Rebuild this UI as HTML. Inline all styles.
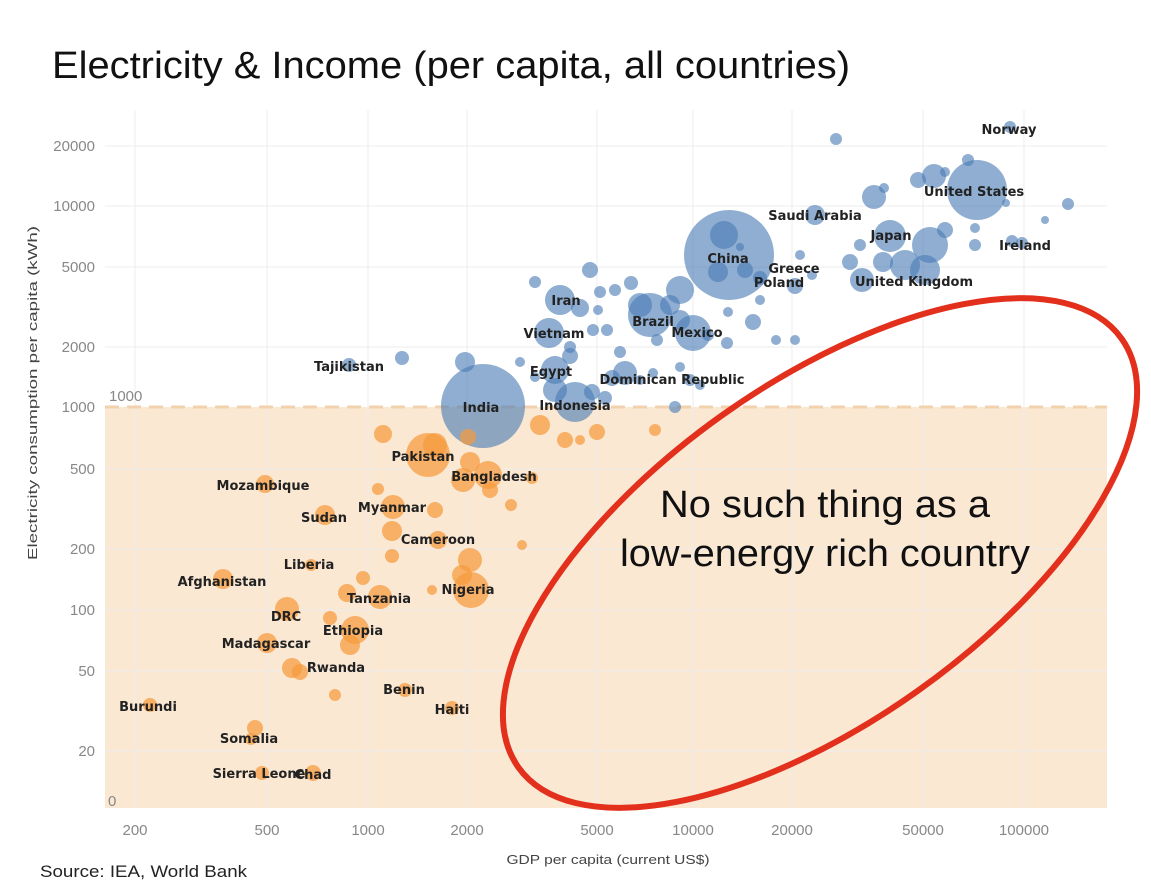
<!DOCTYPE html>
<html><head><meta charset="utf-8"><style>
html,body{margin:0;padding:0;background:#fff;}
svg{display:block;}
.t{font-family:"Liberation Sans",sans-serif;}
.lb{font-family:"DejaVu Sans","Liberation Sans",sans-serif;font-size:13px;font-weight:bold;fill:#222;text-anchor:middle;}
.tk{font-family:"Liberation Sans",sans-serif;font-size:15px;fill:#888;}
.b circle{fill:#4a7db5;fill-opacity:0.62;}
.o circle{fill:#f59a3c;fill-opacity:0.72;}
</style></head><body>
<svg width="1151" height="895" viewBox="0 0 1151 895" xmlns="http://www.w3.org/2000/svg">
<rect width="1151" height="895" fill="#fff"/>
<text class="t" x="52" y="78" font-size="38" fill="#111" textLength="798" lengthAdjust="spacingAndGlyphs">Electricity &amp; Income (per capita, all countries)</text>
<rect x="105" y="407" width="1002" height="401" fill="#fbe8d3"/>
<g stroke="#ececec" stroke-width="1">
<line x1="135" y1="110" x2="135" y2="808"/><line x1="267" y1="110" x2="267" y2="808"/>
<line x1="368" y1="110" x2="368" y2="808"/><line x1="467" y1="110" x2="467" y2="808"/>
<line x1="597" y1="110" x2="597" y2="808"/><line x1="693" y1="110" x2="693" y2="808"/>
<line x1="792" y1="110" x2="792" y2="808"/><line x1="923" y1="110" x2="923" y2="808"/>
<line x1="1024" y1="110" x2="1024" y2="808"/>
<line x1="105" y1="146" x2="1107" y2="146"/><line x1="105" y1="206" x2="1107" y2="206"/>
<line x1="105" y1="267" x2="1107" y2="267"/><line x1="105" y1="347" x2="1107" y2="347"/>
<line x1="105" y1="469" x2="1107" y2="469"/><line x1="105" y1="549" x2="1107" y2="549"/>
<line x1="105" y1="610" x2="1107" y2="610"/><line x1="105" y1="671" x2="1107" y2="671"/>
<line x1="105" y1="751" x2="1107" y2="751"/>
</g>
<line x1="105" y1="407" x2="1107" y2="407" stroke="#f2d2ae" stroke-width="3" stroke-dasharray="14,8"/>
<g class="tk" text-anchor="end">
<text x="95" y="151">20000</text><text x="95" y="211">10000</text><text x="95" y="272">5000</text>
<text x="95" y="352">2000</text><text x="95" y="412">1000</text><text x="95" y="474">500</text>
<text x="95" y="554">200</text><text x="95" y="615">100</text><text x="95" y="676">50</text>
<text x="95" y="756">20</text>
</g>
<text class="tk" x="109" y="401">1000</text>
<text class="tk" x="108" y="806">0</text>
<g class="tk" text-anchor="middle">
<text x="135" y="835">200</text><text x="267" y="835">500</text><text x="368" y="835">1000</text>
<text x="467" y="835">2000</text><text x="597" y="835">5000</text><text x="693" y="835">10000</text>
<text x="792" y="835">20000</text><text x="923" y="835">50000</text><text x="1024" y="835">100000</text>
</g>
<text class="t" x="608" y="864" font-size="13" fill="#444" text-anchor="middle" textLength="203" lengthAdjust="spacingAndGlyphs">GDP per capita (current US$)</text>
<text class="t" transform="translate(37,393) rotate(-90)" font-size="13" fill="#444" text-anchor="middle" textLength="334" lengthAdjust="spacingAndGlyphs">Electricity consumption per capita (kWh)</text>
<text class="t" x="40" y="877" font-size="17" fill="#222" textLength="207" lengthAdjust="spacingAndGlyphs">Source: IEA, World Bank</text>
<g class="b">
<circle cx="1010" cy="127" r="6"/><circle cx="836" cy="139" r="6"/>
<circle cx="977" cy="190" r="30"/><circle cx="934" cy="176" r="12"/><circle cx="945" cy="172" r="5"/>
<circle cx="968" cy="160" r="6"/><circle cx="918" cy="180" r="8"/><circle cx="874" cy="197" r="12"/>
<circle cx="884" cy="188" r="5"/><circle cx="1068" cy="204" r="6"/><circle cx="1045" cy="220" r="4"/>
<circle cx="1006" cy="203" r="4"/><circle cx="815" cy="215" r="10"/>
<circle cx="729" cy="255" r="45"/><circle cx="724" cy="235" r="14"/><circle cx="740" cy="247" r="4"/>
<circle cx="890" cy="236" r="16"/><circle cx="930" cy="245" r="18"/><circle cx="945" cy="230" r="8"/>
<circle cx="975" cy="245" r="6"/><circle cx="975" cy="228" r="5"/><circle cx="1012" cy="241" r="6"/>
<circle cx="1022" cy="243" r="6"/>
<circle cx="883" cy="262" r="10"/><circle cx="850" cy="262" r="8"/><circle cx="860" cy="245" r="6"/>
<circle cx="905" cy="265" r="15"/><circle cx="925" cy="270" r="15"/><circle cx="862" cy="280" r="12"/>
<circle cx="795" cy="286" r="8"/><circle cx="812" cy="275" r="5"/><circle cx="800" cy="255" r="5"/>
<circle cx="680" cy="290" r="14"/><circle cx="670" cy="305" r="10"/><circle cx="718" cy="272" r="10"/>
<circle cx="745" cy="270" r="8"/><circle cx="760" cy="278" r="7"/>
<circle cx="590" cy="270" r="8"/><circle cx="631" cy="283" r="7"/><circle cx="615" cy="290" r="6"/>
<circle cx="560" cy="300" r="15"/><circle cx="535" cy="282" r="6"/><circle cx="580" cy="308" r="9"/>
<circle cx="600" cy="292" r="6"/><circle cx="598" cy="310" r="5"/>
<circle cx="650" cy="315" r="22"/><circle cx="640" cy="305" r="12"/><circle cx="693" cy="333" r="18"/>
<circle cx="680" cy="320" r="10"/><circle cx="549" cy="333" r="15"/><circle cx="570" cy="347" r="6"/>
<circle cx="593" cy="330" r="6"/><circle cx="607" cy="330" r="6"/><circle cx="753" cy="322" r="8"/>
<circle cx="760" cy="300" r="5"/><circle cx="728" cy="312" r="5"/><circle cx="776" cy="340" r="5"/>
<circle cx="727" cy="343" r="6"/><circle cx="620" cy="352" r="6"/><circle cx="657" cy="340" r="6"/>
<circle cx="708" cy="335" r="6"/><circle cx="795" cy="340" r="5"/>
<circle cx="555" cy="370" r="14"/><circle cx="570" cy="356" r="8"/><circle cx="625" cy="373" r="12"/>
<circle cx="612" cy="378" r="8"/><circle cx="465" cy="362" r="10"/><circle cx="402" cy="358" r="7"/>
<circle cx="349" cy="365" r="7"/><circle cx="483" cy="406" r="42"/><circle cx="575" cy="402" r="20"/>
<circle cx="555" cy="390" r="12"/><circle cx="592" cy="392" r="8"/><circle cx="605" cy="398" r="7"/>
<circle cx="675" cy="407" r="6"/><circle cx="690" cy="380" r="6"/><circle cx="700" cy="385" r="5"/>
<circle cx="680" cy="367" r="5"/><circle cx="520" cy="362" r="5"/><circle cx="535" cy="377" r="5"/>
<circle cx="653" cy="373" r="5"/><circle cx="640" cy="380" r="5"/>
</g>
<g class="o">
<circle cx="383" cy="434" r="9"/><circle cx="428" cy="455" r="22"/><circle cx="435" cy="445" r="12"/>
<circle cx="468" cy="437" r="8"/><circle cx="470" cy="462" r="10"/><circle cx="488" cy="475" r="14"/>
<circle cx="463" cy="480" r="12"/><circle cx="490" cy="490" r="8"/><circle cx="540" cy="425" r="10"/>
<circle cx="565" cy="440" r="8"/><circle cx="597" cy="432" r="8"/><circle cx="655" cy="430" r="6"/>
<circle cx="580" cy="440" r="5"/><circle cx="532" cy="478" r="6"/><circle cx="511" cy="505" r="6"/>
<circle cx="522" cy="545" r="5"/><circle cx="265" cy="484" r="9"/><circle cx="378" cy="489" r="6"/>
<circle cx="325" cy="515" r="10"/><circle cx="393" cy="507" r="12"/><circle cx="435" cy="510" r="8"/>
<circle cx="392" cy="531" r="10"/><circle cx="438" cy="540" r="9"/><circle cx="392" cy="556" r="7"/>
<circle cx="470" cy="560" r="12"/><circle cx="311" cy="565" r="6"/><circle cx="223" cy="579" r="10"/>
<circle cx="471" cy="590" r="18"/><circle cx="462" cy="575" r="10"/><circle cx="380" cy="597" r="12"/>
<circle cx="347" cy="593" r="9"/><circle cx="363" cy="578" r="7"/><circle cx="432" cy="590" r="5"/>
<circle cx="287" cy="609" r="12"/><circle cx="330" cy="618" r="7"/><circle cx="355" cy="630" r="14"/>
<circle cx="350" cy="645" r="10"/><circle cx="267" cy="643" r="10"/><circle cx="292" cy="668" r="10"/>
<circle cx="300" cy="672" r="8"/><circle cx="405" cy="690" r="7"/><circle cx="335" cy="695" r="6"/>
<circle cx="150" cy="705" r="7"/><circle cx="452" cy="708" r="7"/><circle cx="255" cy="728" r="8"/>
<circle cx="251" cy="739" r="6"/><circle cx="262" cy="773" r="7"/><circle cx="313" cy="773" r="8"/>
</g>
<g class="lb">
<text x="1009" y="134">Norway</text><text x="974" y="196">United States</text>
<text x="815" y="220">Saudi Arabia</text><text x="891" y="240">Japan</text>
<text x="1025" y="250">Ireland</text><text x="728" y="263">China</text>
<text x="794" y="273">Greece</text><text x="779" y="287">Poland</text>
<text x="914" y="286">United Kingdom</text><text x="566" y="305">Iran</text>
<text x="653" y="326">Brazil</text><text x="697" y="337">Mexico</text>
<text x="554" y="338">Vietnam</text><text x="551" y="376">Egypt</text>
<text x="672" y="384">Dominican Republic</text><text x="349" y="371">Tajikistan</text>
<text x="481" y="412">India</text><text x="575" y="410">Indonesia</text>
<text x="423" y="461">Pakistan</text><text x="494" y="481">Bangladesh</text>
<text x="263" y="490">Mozambique</text><text x="324" y="522">Sudan</text>
<text x="392" y="512">Myanmar</text><text x="438" y="544">Cameroon</text>
<text x="309" y="569">Liberia</text><text x="222" y="586">Afghanistan</text>
<text x="468" y="594">Nigeria</text><text x="379" y="603">Tanzania</text>
<text x="286" y="621">DRC</text><text x="353" y="635">Ethiopia</text>
<text x="266" y="648">Madagascar</text><text x="336" y="672">Rwanda</text>
<text x="404" y="694">Benin</text><text x="452" y="714">Haiti</text>
<text x="148" y="711">Burundi</text><text x="249" y="743">Somalia</text>
<text x="259" y="778">Sierra Leone</text><text x="313" y="779">Chad</text>
</g>
<ellipse cx="820" cy="553" rx="370" ry="169" transform="rotate(-35.4 820 553)" fill="none" stroke="#e2301c" stroke-width="6"/>
<g class="t" font-size="38" fill="#111" text-anchor="middle">
<text x="825" y="517" textLength="330" lengthAdjust="spacingAndGlyphs">No such thing as a</text>
<text x="825" y="566" textLength="410" lengthAdjust="spacingAndGlyphs">low-energy rich country</text>
</g>
</svg>
</body></html>
